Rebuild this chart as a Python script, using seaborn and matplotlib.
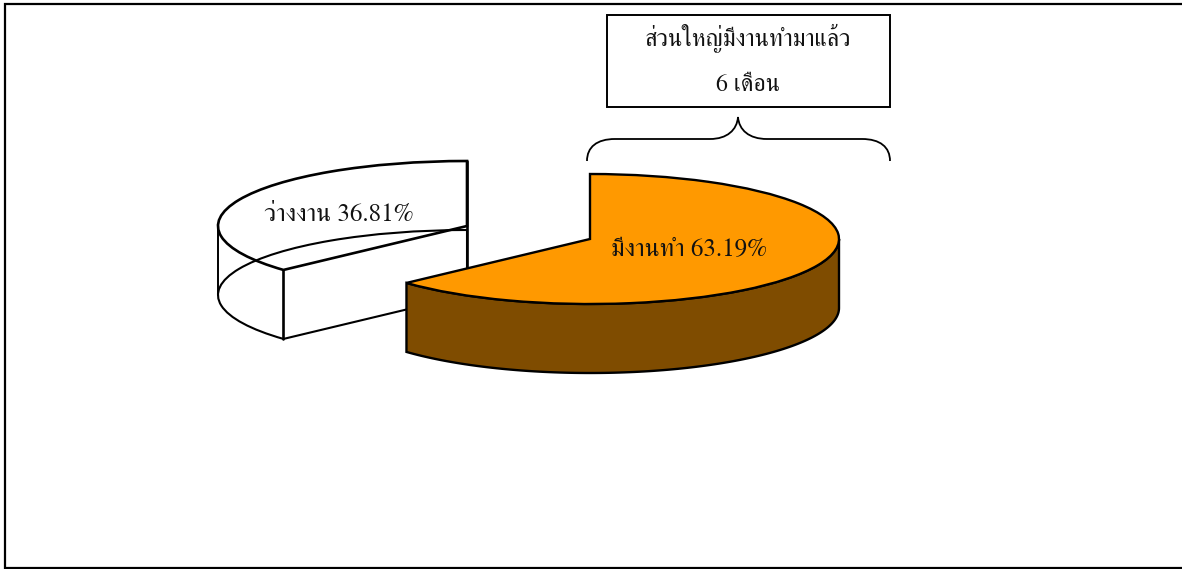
import numpy as np
import matplotlib
matplotlib.use("Agg")
import matplotlib.pyplot as plt
import seaborn as sns
from matplotlib.patches import PathPatch, Rectangle, Wedge
from matplotlib.path import Path

shares = [63.19, 36.81]
labels = ["มีงานทำ", "ว่างงาน"]
note_lines = ["ส่วนใหญ่มีงานทำมาแล้ว", "6 เดือน"]

W, H = 1182, 569
RX, RY, DEPTH = 249, 65, 69

sns.set_style("white")
plt.rcParams["font.family"] = ["FreeSerif", "DejaVu Sans"]


# picture pixels (from top left) to the squashed data units of the pie
def px(x, y):
    return x / RX, (H - y) / RY


fig = plt.figure(figsize=(W / 100, H / 100), dpi=100)
ax = fig.add_axes([0, 0, 1, 1])

# orange slice, the other one is moved away and only outlined
wedges, _ = ax.pie(shares, startangle=90, counterclock=False, radius=1, center=px(590, 239),
                   colors=["#FF9900", "none"],
                   wedgeprops={"edgecolor": "black", "linewidth": 1.7, "zorder": 5})
ax.set_aspect("auto")
ax.set_xlim(0, W / RX)
ax.set_ylim(0, H / RY)

top, ghost = wedges
ghost.set_center(px(467, 226))
ghost.set_zorder(2)
ghost.set_linewidth(1.9)

# wall of the white slice, see-through
d = DEPTH / RY
cx, cy = ghost.center
low = Wedge((cx, cy - d), 1, ghost.theta1, ghost.theta2, facecolor="none",
            edgecolor="black", linewidth=1.5, zorder=2)
ax.add_patch(low)
for ang in [ghost.theta2, 180]:
    x = cx + np.cos(np.radians(ang))
    y = cy + np.sin(np.radians(ang))
    ax.plot([x, x], [y, y - d], color="black", lw=1.4 if ang == 180 else 1.9, zorder=2)
ax.plot([cx, cx], [cy + 1, cy - d], color="black", lw=1.9, zorder=2)

# brown wall of the orange slice
cx, cy = top.center
t = np.radians(np.linspace(top.theta1, 0, 120))
xs = cx + np.cos(t)
ys = cy + np.sin(t)
ax.fill(np.r_[xs, xs[::-1]], np.r_[ys, ys[::-1] - d], facecolor="#7F4C00",
        edgecolor="black", linewidth=1.7, zorder=4)

# slice labels
ax.text(*px(689, 250), f"{labels[0]} {shares[0]:.2f}%", fontsize=18, ha="center", va="center", color="#111111", zorder=6)
ax.text(*px(339, 215), f"{labels[1]} {shares[1]:.2f}%", fontsize=18, ha="center", va="center", color="#111111", zorder=6)

# note box
x0, y0 = px(606.5, 107)
x1, y1 = px(890, 15.5)
ax.add_patch(Rectangle((x0, y0), x1 - x0, y1 - y0, facecolor="white", edgecolor="black", linewidth=1.4, zorder=3))
ax.text(*px(748, 38), note_lines[0], fontsize=17.2, ha="center", va="center", color="#111111", zorder=6)
ax.text(*px(748, 85), note_lines[1], fontsize=17.2, ha="center", va="center", color="#111111", zorder=6)

# brace under the box
brace = [(587, 161), (587, 147), (597, 139), (615, 139), (710, 139), (727, 139), (737, 130), (738, 117),
         (739, 130), (749, 139), (767, 139), (862, 139), (880, 139), (890, 147), (890, 161)]
codes = [Path.MOVETO, Path.CURVE4, Path.CURVE4, Path.CURVE4, Path.LINETO, Path.CURVE4, Path.CURVE4, Path.CURVE4,
         Path.CURVE4, Path.CURVE4, Path.CURVE4, Path.LINETO, Path.CURVE4, Path.CURVE4, Path.CURVE4]
ax.add_patch(PathPatch(Path([px(*p) for p in brace], codes), facecolor="none", edgecolor="black", linewidth=1.3, zorder=3))

# outer frame, open on the right
fx, fy = zip(*[px(W, 4), px(5, 4), px(5, 568), px(W, 568)])
ax.plot(fx, fy, color="black", lw=1.6, solid_joinstyle="miter", zorder=1)

fig.savefig("out.png", dpi=100, facecolor="white")
